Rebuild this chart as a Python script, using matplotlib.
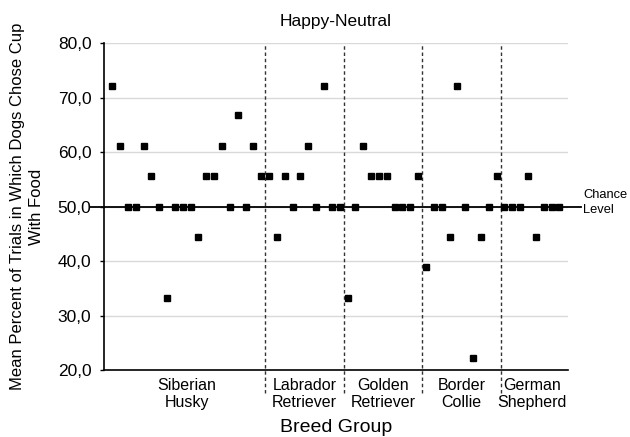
import matplotlib.pyplot as plt
import numpy as np

plt.rcParams['font.family'] = ['Liberation Sans', 'DejaVu Sans']

breeds = ["Siberian\nHusky", "Labrador\nRetriever", "Golden\nRetriever",
          "Border\nCollie", "German\nShepherd"]
husky = [72.2, 61.1, 50.0, 50.0, 61.1, 55.6, 50.0, 33.3, 50.0, 50.0,
         50.0, 44.4, 55.6, 55.6, 61.1, 50.0, 66.7, 50.0, 61.1, 55.6]
labrador = [55.6, 44.4, 55.6, 50.0, 55.6, 61.1, 50.0, 72.2, 50.0, 50.0]
golden = [33.3, 50.0, 61.1, 55.6, 55.6, 55.6, 50.0, 50.0, 50.0, 55.6]
border = [38.9, 50.0, 50.0, 44.4, 72.2, 50.0, 22.2, 44.4, 50.0, 55.6]
german = [50.0, 50.0, 50.0, 55.6, 44.4, 50.0, 50.0, 50.0]
y_ticks = [20, 30, 40, 50, 60, 70, 80]
chance = 50.0

groups = [husky, labrador, golden, border, german]

fig = plt.figure(figsize=(6.3, 4.37), dpi=100)
ax = fig.add_axes([0.165, 0.1533, 0.7366, 0.7483])

# points
start = 0
for vals in groups:
    xs = np.arange(start, start + len(vals))
    ax.plot(xs, vals, 's', color='black', markersize=5, zorder=4, clip_on=False)
    start += len(vals)

ax.set_xlim(-1.05, 58.1)
ax.set_ylim(20, 80)

# grid
for y in y_ticks[1:]:
    ax.axhline(y, color='#d9d9d9', linewidth=1, zorder=1)

# chance line, sticking out both sides
ax.plot([-0.03, 1.028], [chance, chance], color='black', linewidth=1.3,
        transform=ax.get_yaxis_transform(), clip_on=False, zorder=3)
ax.text(1.033, chance + 0.8, "Chance\nLevel", transform=ax.get_yaxis_transform(),
        ha='left', va='center', fontsize=9.3, linespacing=1.35)

# group dividers and labels
start = 0
for i, vals in enumerate(groups):
    end = start + len(vals)
    ax.text((start + end - 1) / 2, 18.6, breeds[i], ha='center', va='top',
            fontsize=11.5, linespacing=1.2)
    if i < len(groups) - 1:
        ax.axvline(end - 0.5, ymin=-0.07, ymax=1, color='#333333', linewidth=1,
                   linestyle=(0, (2.5, 2)), clip_on=False, zorder=2)
    start = end

ax.set_yticks(y_ticks)
ax.set_yticklabels([f"{v:.1f}".replace('.', ',') for v in y_ticks], fontsize=12.5)
ax.tick_params(axis='y', length=3, width=1, pad=6)
ax.set_xticks([])

for s in ['top', 'right']:
    ax.spines[s].set_visible(False)
ax.spines['left'].set_linewidth(1.2)
ax.spines['bottom'].set_linewidth(1.2)

ax.set_title("Happy-Neutral", fontsize=12.5, pad=12)
fig.text(0.533, 1 - 428 / 437, "Breed Group", ha='center', va='center', fontsize=14)
ax.set_ylabel("Mean Percent of Trials in Which Dogs Chose Cup\nWith Food",
              fontsize=12, labelpad=10, linespacing=1.3)

fig.savefig("out.png", dpi=100)
